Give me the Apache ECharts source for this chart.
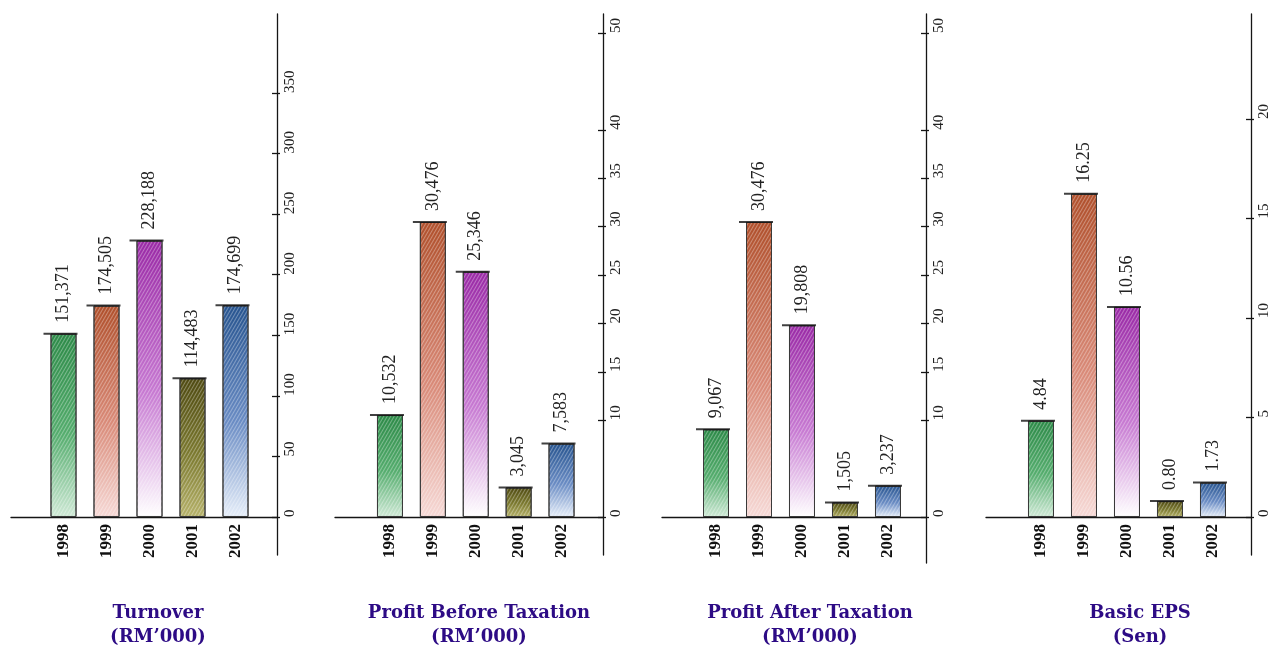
<!DOCTYPE html>
<html>
<head>
<meta charset="utf-8">
<script src="https://cdn.jsdelivr.net/npm/echarts@6/dist/echarts.min.js"></script>
<style>
  html, body { margin: 0; padding: 0; background: #ffffff; }
  #chart { width: 1273px; height: 647px; }
</style>
</head>
<body>
<div id="chart"></div>
<script>
// ---- data ----
const years = ['1998', '1999', '2000', '2001', '2002'];
const turnover = [151371, 174505, 228188, 114483, 174699];   // RM'000
const pbt = [10532, 30476, 25346, 3045, 7583];               // RM'000
const pat = [9067, 30476, 19808, 1505, 3237];                // RM'000
const eps = [4.84, 16.25, 10.56, 0.80, 1.73];                // Sen
const turnoverTicks = [0, 50, 100, 150, 200, 250, 300, 350]; // RM million
const pbtTicks = [0, 10, 15, 20, 25, 30, 35, 40, 50];        // RM million
const patTicks = [0, 10, 15, 20, 25, 30, 35, 40, 50];        // RM million
const epsTicks = [0, 5, 10, 15, 20];                         // Sen
const titles = [
  'Turnover\n(RM\u2019000)',
  'Profit Before Taxation\n(RM\u2019000)',
  'Profit After Taxation\n(RM\u2019000)',
  'Basic EPS\n(Sen)'
];

// ---- styling / layout ----
const yearColors = [
  ['#2d8a48', '#55ad6e', '#cfe9d6'],
  ['#b0502c', '#d98a78', '#f6d9d6'],
  ['#9a2aa6', '#c77ad2', '#ffffff'],
  ['#4f4a12', '#7c7a30', '#b6b26a'],
  ['#27548f', '#6a8cc4', '#e6eef9']
];
const panels = [
  { values: turnover, ticks: turnoverTicks, unit: 1000, fmt: 'int',
    yMin: -31369, yMax: 415220, left: 11, axisX: 277, bottom: 555,
    xMin: -1.221, xMax: 4.965, titleX: 153 },
  { values: pbt, ticks: pbtTicks, unit: 1000, fmt: 'int',
    yMin: -3926, yMax: 51963, left: 335, axisX: 603, bottom: 555,
    xMin: -1.282, xMax: 4.967, titleX: 474 },
  { values: pat, ticks: patTicks, unit: 1000, fmt: 'int',
    yMin: -4752, yMax: 51963, left: 662, axisX: 926, bottom: 563,
    xMin: -1.256, xMax: 4.884, titleX: 805 },
  { values: eps, ticks: epsTicks, unit: 1, fmt: 'dec',
    yMin: -1.91, yMax: 25.28, left: 986, axisX: 1251, bottom: 555,
    xMin: -1.279, xMax: 4.884, titleX: 1135 }
];

const W = 1273, H = 647, TOP = 14, BASE = 517;
const serif = 'Liberation Serif';
const axisColor = '#151515';

function fmtVal(v, fmt) {
  return fmt === 'dec' ? v.toFixed(2) : v.toLocaleString('en-US');
}

const grid = [], xAxis = [], yAxis = [], series = [], title = [];

panels.forEach((p, k) => {
  grid.push({ left: p.left, right: W - p.axisX, top: TOP, bottom: H - p.bottom, containLabel: false });

  xAxis.push({
    type: 'value', gridIndex: k, min: p.xMin, max: p.xMax,
    splitLine: { show: false },
    axisTick: { show: false },
    axisLine: { show: true, onZero: true, lineStyle: { color: axisColor, width: 1.3 } },
    axisLabel: {
      customValues: [0, 1, 2, 3, 4],
      formatter: v => years[Math.round(v)],
      rotate: 90, margin: 7 - (p.bottom - BASE),
      fontFamily: serif, fontWeight: 'bold', fontSize: 17, color: '#111'
    }
  });

  const tickVals = p.ticks.map(t => t * p.unit);
  yAxis.push({
    type: 'value', gridIndex: k, position: 'right', min: p.yMin, max: p.yMax,
    splitLine: { show: false },
    axisLine: { show: true, onZero: false, lineStyle: { color: axisColor, width: 1.3 } },
    axisTick: { show: true, inside: false, length: 3, customValues: tickVals, lineStyle: { color: axisColor, width: 1.3 } },
    axisLabel: {
      customValues: tickVals,
      formatter: v => String(Math.round(v / p.unit)),
      rotate: 90, align: 'left', verticalAlign: 'top', margin: 6,
      fontFamily: serif, fontSize: 15, color: '#222'
    }
  });
  yAxis.push({
    type: 'value', gridIndex: k, position: 'right', min: p.yMin, max: p.yMax,
    splitLine: { show: false },
    axisLine: { show: false, onZero: false },
    axisTick: { show: true, inside: true, length: 5, customValues: tickVals, lineStyle: { color: axisColor, width: 1.3 } },
    axisLabel: { show: false }
  });

  const yIdx = k * 2;

  series.push({
    type: 'bar', xAxisIndex: k, yAxisIndex: yIdx, barWidth: 26, z: 2,
    data: p.values.map((v, i) => ({
      value: [i, v],
      itemStyle: {
        color: {
          type: 'linear', x: 0, y: 0, x2: 0, y2: 1,
          colorStops: [
            { offset: 0, color: yearColors[i][0] },
            { offset: 0.55, color: yearColors[i][1] },
            { offset: 1, color: yearColors[i][2] }
          ]
        },
        borderColor: '#3a3a3a', borderWidth: 1,
        decal: {
          symbol: 'rect', symbolSize: 1,
          dashArrayX: [1, 0], dashArrayY: [1, 2],
          rotation: -Math.PI / 3,
          color: 'rgba(255,255,255,0.33)'
        }
      }
    })),
    label: {
      show: true, position: 'top', rotate: 90, align: 'left', verticalAlign: 'middle',
      distance: 9, offset: [2, 0],
      fontFamily: serif, fontSize: 18, color: '#222',
      formatter: prm => fmtVal(prm.value[1], p.fmt)
    }
  });

  series.push({
    type: 'scatter', xAxisIndex: k, yAxisIndex: yIdx, z: 4, silent: true,
    symbol: 'rect', symbolSize: [34, 2], symbolOffset: [-3, 0],
    itemStyle: { color: '#111' },
    data: p.values.map((v, i) => [i, v])
  });

  title.push({
    text: titles[k], left: p.titleX, top: 596, textAlign: 'center',
    textStyle: { fontFamily: 'DejaVu Serif', fontWeight: 'bold', fontSize: 18, lineHeight: 24, color: '#2d0b85' }
  });
});

const chart = echarts.init(document.getElementById('chart'), null, { renderer: 'canvas' });
chart.setOption({
  animation: false,
  backgroundColor: '#ffffff',
  title, grid, xAxis, yAxis, series
});
</script>
</body>
</html>
